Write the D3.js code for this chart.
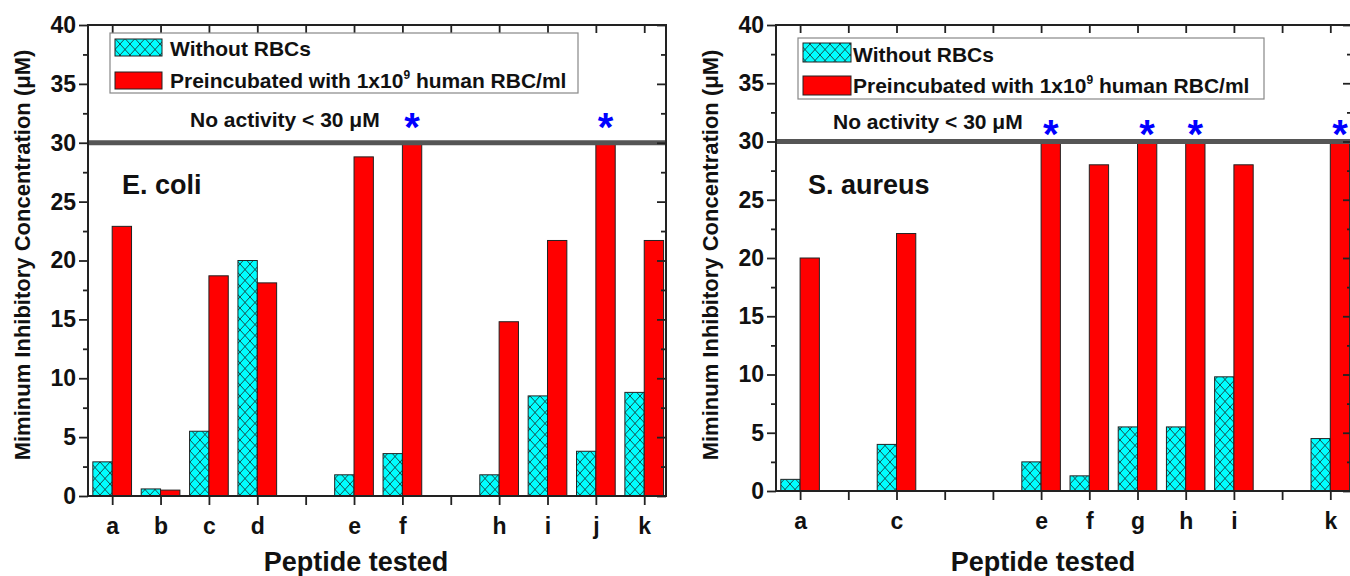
<!DOCTYPE html>
<html>
<head>
<meta charset="utf-8">
<script src="https://cdn.jsdelivr.net/npm/d3@7"></script>
<style>
  html, body { margin: 0; padding: 0; background: #fff; }
  svg text { font-family: "Liberation Sans", Arial, sans-serif; font-weight: bold; fill: #111; }
</style>
</head>
<body>
<svg id="chart" width="1350" height="576"></svg>
<script>
// ---------------- data ----------------
const categories = ["a", "b", "c", "d", "", "e", "f", "g", "h", "i", "j", "k"];
const ecoliTickLabels = ["a", "b", "c", "d", "", "e", "f", "", "h", "i", "j", "k"];
const aureusTickLabels = ["a", "", "c", "", "", "e", "f", "g", "h", "i", "", "k"];
const ecoliWithout = [2.9, 0.6, 5.5, 20.0, null, 1.8, 3.6, null, 1.8, 8.5, 3.8, 8.8];
const ecoliRBC = [22.9, 0.5, 18.7, 18.1, null, 28.8, 30, null, 14.8, 21.7, 30, 21.7];
const aureusWithout = [1.0, null, 4.0, null, null, 2.5, 1.3, 5.5, 5.5, 9.8, null, 4.5];
const aureusRBC = [20.0, null, 22.1, null, null, 30, 28, 30, 30, 28, null, 30];
const ecoliStars = ["f", "j"];
const aureusStars = ["e", "g", "h", "k"];
const yTicks = [0, 5, 10, 15, 20, 25, 30, 35, 40];
const yMinorTicks = [2.5, 7.5, 12.5, 17.5, 22.5, 27.5, 32.5, 37.5];
const threshold = 30;
const legendLabels = ["Without RBCs", "Preincubated with 1x10", "9", " human RBC/ml"];
const yTitle = "Miminum Inhibitory Concentration (\u03BCM)";
const xTitle = "Peptide tested";
const noActivity = "No activity < 30 \u03BCM";

const svg = d3.select("#chart");

// hatch pattern
const defs = svg.append("defs");
const pat = defs.append("pattern").attr("id", "hatch")
  .attr("patternUnits", "userSpaceOnUse").attr("width", 10).attr("height", 11);
pat.append("rect").attr("width", 10).attr("height", 11).attr("fill", "#00FFFF");
pat.append("path").attr("d", "M0,0 L10,11 M10,0 L0,11")
  .attr("stroke", "#1a3a3a").attr("stroke-width", 0.9).attr("fill", "none");

function panel(cfg) {
  const g = svg.append("g");
  const x = d3.scaleLinear().domain([0.5, 12.45]).range([cfg.left, cfg.right]);
  const y = d3.scaleLinear().domain([0, 40]).range([cfg.bottom, cfg.top]);
  const unit = x(2) - x(1);
  const bw = unit * 0.4;

  // bars
  g.selectAll(".cy").data(cfg.without.map((v, i) => ({v, i})).filter(d => d.v != null))
    .join("rect")
    .attr("x", d => x(d.i + 1) - bw).attr("width", bw)
    .attr("y", d => y(d.v)).attr("height", d => y(0) - y(d.v))
    .attr("fill", "url(#hatch)").attr("stroke", "#222").attr("stroke-width", 1);
  g.selectAll(".rd").data(cfg.rbc.map((v, i) => ({v, i})).filter(d => d.v != null))
    .join("rect")
    .attr("x", d => x(d.i + 1)).attr("width", bw)
    .attr("y", d => y(d.v)).attr("height", d => y(0) - y(d.v))
    .attr("fill", "#FF0000").attr("stroke", "#222").attr("stroke-width", 1);

  // threshold line
  g.append("line").attr("x1", cfg.left).attr("x2", cfg.right)
    .attr("y1", y(threshold)).attr("y2", y(threshold))
    .attr("stroke", "#555").attr("stroke-width", 5);

  // axes
  const axC = "#222";
  const left = g.append("g").attr("transform", `translate(${cfg.left},0)`)
    .call(d3.axisLeft(y).tickValues(yTicks).tickSize(9).tickPadding(3));
  left.append("g").call(d3.axisLeft(y).tickValues(yMinorTicks).tickSize(5).tickFormat(""));
  const right = g.append("g").attr("transform", `translate(${cfg.right},0)`)
    .call(d3.axisLeft(y).tickValues(yTicks).tickSize(9).tickFormat(""));
  right.append("g").call(d3.axisLeft(y).tickValues(yMinorTicks).tickSize(5).tickFormat(""));
  const bottom = g.append("g").attr("transform", `translate(0,${cfg.bottom})`)
    .call(d3.axisBottom(x).tickValues(d3.range(1, 13)).tickSize(9).tickPadding(13)
      .tickFormat(d => cfg.tickLabels[d - 1]));
  const top = g.append("g").attr("transform", `translate(0,${cfg.top})`)
    .call(d3.axisBottom(x).tickValues(d3.range(1, 13)).tickSize(8).tickFormat(""));
  [left, right, bottom, top].forEach(a => {
    a.selectAll("path.domain").remove();
    a.selectAll("line").attr("stroke", axC).attr("stroke-width", 1.8);
  });
  g.append("rect").attr("x", cfg.left).attr("y", cfg.top)
    .attr("width", cfg.right - cfg.left).attr("height", cfg.bottom - cfg.top)
    .attr("fill", "none").attr("stroke", axC).attr("stroke-width", 2);
  left.selectAll("text").style("font-size", "23px").attr("fill", "#111");
  bottom.selectAll("text").style("font-size", "23px").attr("fill", "#111");

  // stars
  g.selectAll(".star").data(cfg.stars).join("text")
    .attr("x", d => x(categories.indexOf(d) + 1) + bw / 2)
    .attr("y", cfg.starBase)
    .attr("text-anchor", "middle").style("font-size", "40px").style("fill", "#0000FF")
    .text("*");

  // no activity text
  g.append("text").attr("x", cfg.noActX).attr("y", cfg.noActY)
    .style("font-size", "21px").text(noActivity);

  // organism label
  g.append("text").attr("x", cfg.orgX).attr("y", cfg.orgY)
    .style("font-size", "27px").text(cfg.organism);

  // legend
  const L = cfg.legend;
  g.append("rect").attr("x", L.x).attr("y", L.y).attr("width", L.w).attr("height", L.h)
    .attr("fill", "#fff").attr("stroke", "#888").attr("stroke-width", 1.2);
  g.append("rect").attr("x", L.sx).attr("y", L.s1y).attr("width", L.sw).attr("height", L.sh)
    .attr("fill", "url(#hatch)").attr("stroke", "#222").attr("stroke-width", 1);
  g.append("rect").attr("x", L.sx).attr("y", L.s2y).attr("width", L.sw).attr("height", L.sh)
    .attr("fill", "#FF0000").attr("stroke", "#222").attr("stroke-width", 1);
  g.append("text").attr("x", L.tx).attr("y", L.t1y).style("font-size", "21px").text(legendLabels[0]);
  const t2 = g.append("text").attr("x", L.tx).attr("y", L.t2y).style("font-size", "21px");
  t2.append("tspan").text(legendLabels[1]);
  t2.append("tspan").attr("dy", -9).style("font-size", "12px").text(legendLabels[2]);
  t2.append("tspan").attr("dy", 9).text(legendLabels[3]);

  // axis titles
  g.append("text").attr("transform", `translate(${cfg.yTitleX},${cfg.yTitleY}) rotate(-90)`)
    .attr("text-anchor", "middle").style("font-size", "22px").text(yTitle);
  g.append("text").attr("x", cfg.xTitleX).attr("y", 571)
    .attr("text-anchor", "middle").style("font-size", "27px").text(xTitle);
}

panel({
  left: 88, right: 666, top: 25, bottom: 496,
  without: ecoliWithout, rbc: ecoliRBC, tickLabels: ecoliTickLabels, stars: ecoliStars,
  starBase: 141, noActX: 190, noActY: 127, organism: "E. coli", orgX: 122, orgY: 194,
  legend: {x: 110, y: 33, w: 468, h: 60, sx: 115, sw: 47, sh: 17, s1y: 39, s2y: 72, tx: 170, t1y: 56, t2y: 88},
  yTitleX: 30, yTitleY: 255, xTitleX: 356
});
panel({
  left: 776, right: 1352, top: 25, bottom: 491,
  without: aureusWithout, rbc: aureusRBC, tickLabels: aureusTickLabels, stars: aureusStars,
  starBase: 148, noActX: 833, noActY: 129, organism: "S. aureus", orgX: 808, orgY: 194,
  legend: {x: 798, y: 38, w: 466, h: 61, sx: 803, sw: 48, sh: 19, s1y: 43, s2y: 76, tx: 853, t1y: 62, t2y: 93},
  yTitleX: 718, yTitleY: 255, xTitleX: 1043
});
</script>
</body>
</html>
